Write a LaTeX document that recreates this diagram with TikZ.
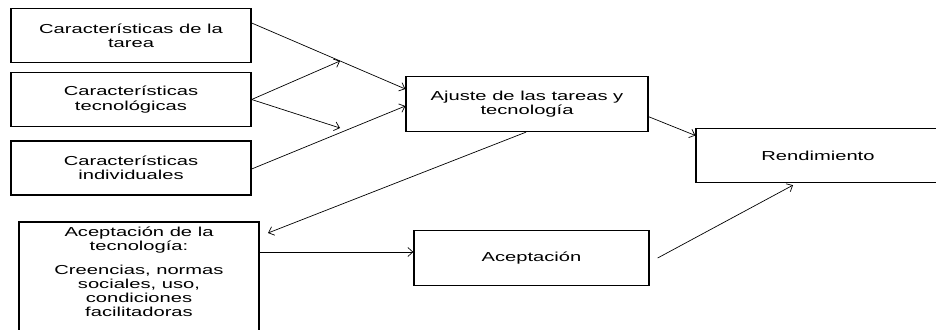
\documentclass[tikz,border=0pt]{standalone}
\usepackage{fontspec}
\setmainfont{Liberation Sans}[FakeStretch=1.55]
\usetikzlibrary{arrows.meta}
\begin{document}
\begin{tikzpicture}[x=1pt,y=-1pt,
  txt/.style={font=\fontsize{13}{14.2}\selectfont},
  box/.style={draw, line width=1.3pt, rectangle, inner sep=0pt, align=center, txt},
  link/.style={line width=0.7pt, -{Straight Barb[length=5pt,width=9pt,line width=0.7pt]}}]
\useasboundingbox (0,0) rectangle (936,329);
\clip (0,0) rectangle (936,329);

% input characteristics
\node[box, minimum width=240pt, minimum height=54pt] (b1) at (131,35.5)
  {Características de la\\tarea};
\node[box, minimum width=240pt, minimum height=54pt] (b2) at (131,99.5)
  {Características\\tecnológicas};
\node[box, minimum width=240pt, minimum height=54pt] (b3) at (131,168)
  {Características\\individuales};

% technology acceptance box (runs past the lower edge)
\node[box, minimum width=240pt, minimum height=123pt] (b4) at (139,283.5) {};
\node[anchor=north, align=center, inner sep=0pt, txt] (t4) at (139,227)
  {Aceptación de la\\tecnología:\\[9pt]Creencias, normas\\sociales, uso,\\condiciones\\facilitadoras};

% fit, acceptance and performance
\node[box, minimum width=242pt, minimum height=55pt] (aj) at (527,104)
  {Ajuste de las tareas y\\tecnología};
\node[box, minimum width=235pt, minimum height=55pt] (ac) at (531.5,258)
  {Aceptación};
\node[box, minimum width=244pt, minimum height=54pt] (rend) at (818,155.5)
  {Rendimiento};

% free arrow ends
\coordinate (c1) at (340,61);
\coordinate (c2) at (340,128);
\coordinate (c3) at (268,233);

% connectors
\draw[link] ([yshift=12.5pt]b1.east) -- ([yshift=15pt]aj.west);
\draw[link] (b2.east) -- (c1);
\draw[link] (b2.east) -- (c2);
\draw[link] ([yshift=-1pt]b3.east) -- ([yshift=-2pt]aj.west);
\draw[link] ([xshift=-1pt]aj.south) -- (c3);
\draw[link] ([yshift=6pt]b4.east |- ac.west) -- ([yshift=6pt]ac.west);
\draw[link] ([yshift=-12.7pt]aj.east) -- ([yshift=20pt]rend.west);
\draw[link] ([xshift=8pt]ac.east) -- ([xshift=-25pt,yshift=-2pt]rend.south);
\end{tikzpicture}
\end{document}
